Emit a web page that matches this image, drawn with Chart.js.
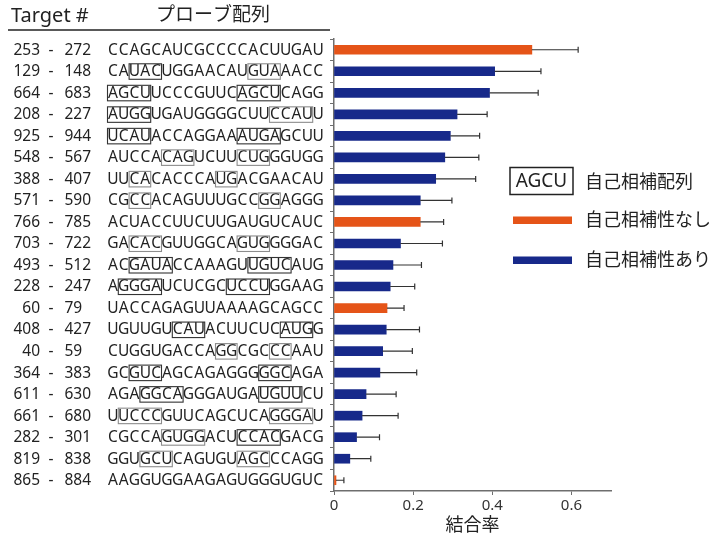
<!DOCTYPE html>
<html>
<head>
<meta charset="utf-8">
<script src="https://cdn.jsdelivr.net/npm/chart.js@4.4.1/dist/chart.umd.min.js"></script>
<style>
  html, body { margin: 0; padding: 0; background: #ffffff; }
  #wrap { width: 728px; height: 537px; position: relative; }
</style>
</head>
<body>
<div id="wrap"><canvas id="chart" width="728" height="537"></canvas></div>
<script>
// Probe target ranges
const targetStart = [253, 129, 664, 208, 925, 548, 388, 571, 766, 703, 493, 228, 60, 408, 40, 364, 611, 661, 282, 819, 865];
const targetEnd   = [272, 148, 683, 227, 944, 567, 407, 590, 785, 722, 512, 247, 79, 427, 59, 383, 630, 680, 301, 838, 884];

// Probe sequences
const probeSeqs = [
  'CCAGCAUCGCCCCACUUGAU',
  'CAUACUGGAACAUGUAAACC',
  'AGCUUCCCGUUCAGCUCAGG',
  'AUGGUGAUGGGGCUUCCAUU',
  'UCAUACCAGGAAAUGAGCUU',
  'AUCCACAGUCUUCUGGGUGG',
  'UUCACACCCAUGACGAACAU',
  'CGCCACAGUUUGCCGGAGGG',
  'ACUACCUUCUUGAUGUCAUC',
  'GACACGUUGGCAGUGGGGAC',
  'ACGAUACCAAAGUUGUCAUG',
  'AGGGAUCUCGCUCCUGGAAG',
  'UACCAGAGUUAAAAGCAGCC',
  'UGUUGUCAUACUUCUCAUGG',
  'CUGGUGACCAGGCGCCCAAU',
  'GCGUCAGCAGAGGGGGCAGA',
  'AGAGGCAGGGAUGAUGUUCU',
  'UUCCCGUUCAGCUCAGGGAU',
  'CGCCAGUGGACUCCACGACG',
  'GGUGCUCAGUGUAGCCCAGG',
  'AAGGUGGAAGAGUGGGUGUC'
];

// Self-complementary segments: [first index, last index, tone]
const selfCompSegments = [
  [],
  [[2, 4, 'dark'], [13, 15, 'light']],
  [[0, 3, 'dark'], [12, 15, 'dark']],
  [[0, 3, 'dark'], [15, 18, 'light']],
  [[0, 3, 'dark'], [12, 15, 'dark']],
  [[5, 7, 'light'], [12, 14, 'light']],
  [[2, 3, 'light'], [10, 11, 'light']],
  [[2, 3, 'light'], [14, 15, 'light']],
  [],
  [[2, 4, 'light'], [12, 14, 'light']],
  [[2, 5, 'dark'], [13, 16, 'dark']],
  [[1, 4, 'dark'], [11, 14, 'dark']],
  [],
  [[6, 8, 'dark'], [16, 18, 'dark']],
  [[10, 11, 'light'], [15, 16, 'light']],
  [[2, 4, 'dark'], [14, 16, 'dark']],
  [[3, 6, 'dark'], [14, 17, 'dark']],
  [[1, 4, 'light'], [15, 18, 'light']],
  [[5, 8, 'light'], [12, 15, 'dark']],
  [[3, 5, 'light'], [12, 14, 'light']],
  []
];

// Binding rate (mean) and upper error
const bindingRate = [0.500, 0.406, 0.393, 0.311, 0.294, 0.280, 0.257, 0.218, 0.218, 0.168, 0.149, 0.142, 0.134, 0.132, 0.123, 0.116, 0.081, 0.071, 0.057, 0.040, 0.005];
const bindingErr  = [0.117, 0.117, 0.123, 0.076, 0.074, 0.086, 0.101, 0.080, 0.059, 0.106, 0.072, 0.062, 0.043, 0.084, 0.075, 0.093, 0.076, 0.091, 0.058, 0.053, 0.020];

// Whether the probe is self-complementary
const isSelfComp = [false, true, true, true, true, true, true, true, false, true, true, true, false, true, true, true, true, true, true, true, false];

// Axis ticks and legend text
const xTicks = [0, 0.2, 0.4, 0.6];
const headerTarget = 'Target #';
const headerSeq = 'プローブ配列';
const xTitle = '結合率';
const legendBoxText = 'AGCU';
const legendItems = ['自己相補配列', '自己相補性なし', '自己相補性あり'];

const ORANGE = '#E55418';
const BLUE = '#17298A';
const TEXT = '#222222';
const FONT = '"Noto Sans", "Noto Sans CJK JP", sans-serif';

const rowLabels = targetStart.map((s, i) => s + ' - ' + targetEnd[i]);

// Left-hand table: target ranges and sequences with boxed segments
const sequenceTable = {
  id: 'sequenceTable',
  afterDraw(chart) {
    const ctx = chart.ctx;
    const y = chart.scales.y;
    ctx.save();
    ctx.fillStyle = TEXT;
    ctx.textBaseline = 'middle';

    // Header
    ctx.font = '20px ' + FONT;
    ctx.textAlign = 'left';
    ctx.fillText(headerTarget, 11, 16);
    ctx.font = '19px ' + FONT;
    ctx.fillText(headerSeq, 156, 16);
    ctx.strokeStyle = '#222';
    ctx.lineWidth = 1.3;
    ctx.beginPath();
    ctx.moveTo(8, 30);
    ctx.lineTo(330, 30);
    ctx.stroke();

    const seqX0 = 107.5;
    const charW = 10.8;
    ctx.font = '15.5px ' + FONT;
    probeSeqs.forEach((seq, i) => {
      const cy = y.getPixelForValue(i) + 0.5;
      ctx.fillStyle = TEXT;
      ctx.textAlign = 'right';
      ctx.fillText(String(targetStart[i]), 40, cy);
      ctx.textAlign = 'center';
      ctx.fillText('-', 51, cy);
      ctx.textAlign = 'left';
      ctx.fillText(String(targetEnd[i]), 64.5, cy);

      ctx.textAlign = 'center';
      for (let k = 0; k < seq.length; k++) {
        ctx.fillText(seq[k], seqX0 + (k + 0.5) * charW, cy);
      }
      selfCompSegments[i].forEach(([a, b, tone]) => {
        ctx.strokeStyle = tone === 'dark' ? '#333333' : '#8c8c8c';
        ctx.lineWidth = 1.1;
        const x1 = seqX0 + a * charW;
        const x2 = seqX0 + (b + 1) * charW;
        ctx.strokeRect(x1, cy - 8, x2 - x1, 15.5);
      });
    });
    ctx.restore();
  }
};

// Upper error bars with end caps
const errorBars = {
  id: 'errorBars',
  afterDatasetsDraw(chart) {
    const ctx = chart.ctx;
    const x = chart.scales.x;
    const y = chart.scales.y;
    ctx.save();
    ctx.strokeStyle = '#333333';
    ctx.lineWidth = 1.2;
    bindingRate.forEach((v, i) => {
      const cy = y.getPixelForValue(i);
      const x1 = x.getPixelForValue(v);
      const x2 = x.getPixelForValue(v + bindingErr[i]);
      ctx.beginPath();
      ctx.moveTo(x1, cy);
      ctx.lineTo(x2, cy);
      ctx.moveTo(x2, cy - 3);
      ctx.lineTo(x2, cy + 3);
      ctx.stroke();
    });
    ctx.restore();
  }
};

// Legend on the right
const sideLegend = {
  id: 'sideLegend',
  afterDraw(chart) {
    const ctx = chart.ctx;
    ctx.save();
    ctx.textBaseline = 'middle';
    // boxed sample
    ctx.strokeStyle = '#222';
    ctx.lineWidth = 1.5;
    ctx.strokeRect(510, 167.5, 63, 27);
    ctx.fillStyle = TEXT;
    ctx.font = '19px ' + FONT;
    ctx.textAlign = 'center';
    ctx.fillText(legendBoxText, 541.5, 181.5);
    // colour swatches
    ctx.fillStyle = ORANGE;
    ctx.fillRect(513, 216.5, 59, 7.5);
    ctx.fillStyle = BLUE;
    ctx.fillRect(513, 256.5, 59, 7.5);
    // labels
    ctx.fillStyle = TEXT;
    ctx.font = '18px ' + FONT;
    ctx.textAlign = 'left';
    ctx.fillText(legendItems[0], 585, 183);
    ctx.fillText(legendItems[1], 585, 220.5);
    ctx.fillText(legendItems[2], 585, 260.5);
    ctx.restore();
  }
};

new Chart(document.getElementById('chart'), {
  type: 'bar',
  data: {
    labels: rowLabels,
    datasets: [{
      data: bindingRate,
      backgroundColor: isSelfComp.map(s => s ? BLUE : ORANGE),
      borderWidth: 0,
      barThickness: 9
    }]
  },
  options: {
    indexAxis: 'y',
    responsive: false,
    animation: false,
    devicePixelRatio: 1,
    layout: { padding: { left: 330, right: 117, top: 39, bottom: 0 } },
    plugins: {
      legend: { display: false },
      tooltip: { enabled: false },
      title: { display: false }
    },
    scales: {
      y: {
        type: 'category',
        offset: true,
        ticks: { display: false },
        grid: {
          display: true,
          drawOnChartArea: false,
          drawTicks: true,
          tickLength: 4,
          color: '#6e6e6e',
          lineWidth: 1
        },
        border: { display: true, color: '#6e6e6e', width: 1.5 },
        afterFit(scale) { scale.width = 4; }
      },
      x: {
        type: 'linear',
        min: 0,
        max: 0.7,
        afterBuildTicks(scale) { scale.ticks = xTicks.map(v => ({ value: v })); },
        ticks: {
          color: '#333',
          font: { family: FONT, size: 15 },
          padding: 2,
          callback: v => (v === 0 ? '0' : String(v))
        },
        grid: {
          display: true,
          drawOnChartArea: false,
          drawTicks: true,
          tickLength: 4,
          color: '#6e6e6e'
        },
        border: { display: true, color: '#6e6e6e', width: 1.5 },
        title: {
          display: true,
          text: xTitle,
          color: TEXT,
          font: { family: FONT, size: 18 },
          padding: { top: 2, bottom: 0 }
        },
        afterFit(scale) { scale.height = 46; }
      }
    }
  },
  plugins: [sequenceTable, errorBars, sideLegend]
});
</script>
</body>
</html>
